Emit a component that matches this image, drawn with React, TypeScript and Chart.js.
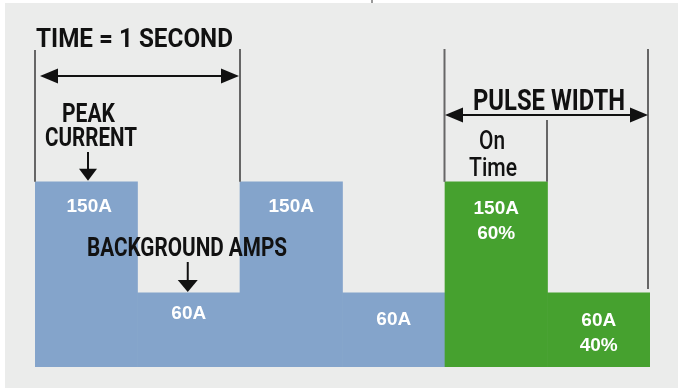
import { useEffect, useRef } from "react";
import { Chart, registerables } from "chart.js";

Chart.register(...registerables);

const categories = ["Peak 1", "Background 1", "Peak 2", "Background 2", "Pulse peak", "Pulse background"];
const amps = [150, 60, 150, 60, 150, 60];
const barLabels = [["150A"], ["60A"], ["150A"], ["60A"], ["150A", "60%"], ["60A", "40%"]];
const barColors = ["#84a4cb", "#84a4cb", "#84a4cb", "#84a4cb", "#46a12f", "#46a12f"];
const titleText = "TIME = 1 SECOND";
const peakText = ["PEAK", "CURRENT"];
const backgroundText = "BACKGROUND AMPS";
const pulseText = "PULSE WIDTH";
const onTimeText = ["On", "Time"];

const BG = "#ebeceb";
const LINE = "#666666";

function fitText(ctx: CanvasRenderingContext2D, text: string, left: number, baseline: number, width: number, font: string) {
  ctx.save();
  ctx.font = font;
  ctx.textAlign = "left";
  ctx.textBaseline = "alphabetic";
  const w = ctx.measureText(text).width;
  ctx.translate(left, baseline);
  ctx.scale(width / w, 1);
  ctx.fillText(text, 0, 0);
  ctx.restore();
}

function hArrow(ctx: CanvasRenderingContext2D, x1: number, x2: number, y: number) {
  const len = 18, half = 7.5;
  ctx.beginPath();
  ctx.moveTo(x1 + len - 2, y);
  ctx.lineTo(x2 - len + 2, y);
  ctx.lineWidth = 2.2;
  ctx.stroke();
  ctx.beginPath();
  ctx.moveTo(x1, y);
  ctx.lineTo(x1 + len, y - half);
  ctx.lineTo(x1 + len, y + half);
  ctx.closePath();
  ctx.fill();
  ctx.beginPath();
  ctx.moveTo(x2, y);
  ctx.lineTo(x2 - len, y - half);
  ctx.lineTo(x2 - len, y + half);
  ctx.closePath();
  ctx.fill();
}

function vArrow(ctx: CanvasRenderingContext2D, x: number, y1: number, y2: number, half: number) {
  const len = 12;
  ctx.beginPath();
  ctx.moveTo(x, y1);
  ctx.lineTo(x, y2 - len + 1);
  ctx.lineWidth = 2;
  ctx.stroke();
  ctx.beginPath();
  ctx.moveTo(x, y2);
  ctx.lineTo(x - half, y2 - len);
  ctx.lineTo(x + half, y2 - len);
  ctx.closePath();
  ctx.fill();
}

function vLine(ctx: CanvasRenderingContext2D, x: number, y1: number, y2: number) {
  ctx.save();
  ctx.strokeStyle = LINE;
  ctx.lineWidth = 2;
  ctx.beginPath();
  ctx.moveTo(x, y1);
  ctx.lineTo(x, y2);
  ctx.stroke();
  ctx.restore();
}

const decorPlugin = {
  id: "decor",
  beforeDraw(chart: any) {
    const ctx = chart.ctx as CanvasRenderingContext2D;
    ctx.save();
    ctx.fillStyle = "#ffffff";
    ctx.fillRect(0, 0, chart.width, chart.height);
    ctx.fillStyle = BG;
    ctx.fillRect(5, 3, chart.width - 5, chart.height - 3);
    ctx.strokeStyle = "#777";
    ctx.lineWidth = 1.5;
    ctx.beginPath();
    ctx.moveTo(372, 0);
    ctx.lineTo(372, 3);
    ctx.stroke();
    ctx.restore();
  },
  afterDatasetsDraw(chart: any) {
    const ctx = chart.ctx as CanvasRenderingContext2D;
    const xs = chart.scales.x;
    const ys = chart.scales.y;
    const edge = (i: number) => xs.getPixelForValue(i - 0.5);
    const topPeak = ys.getPixelForValue(150);
    const topBg = ys.getPixelForValue(60);

    // vertical guide lines
    vLine(ctx, edge(0), 50, topPeak);
    vLine(ctx, edge(2), 49, topPeak);
    vLine(ctx, edge(4) - 0.5, 49, topPeak);
    vLine(ctx, edge(5) - 0.5, 120, topPeak);
    vLine(ctx, edge(6) - 2, 49, topBg - 4);

    ctx.save();
    ctx.fillStyle = "#111111";
    ctx.strokeStyle = "#111111";
    const blackFont = (s: number) => `bold ${s}px Roboto, "Liberation Sans", sans-serif`;

    fitText(ctx, titleText, edge(0) + 1, 47, 197, blackFont(26));
    hArrow(ctx, edge(0) + 5, edge(2) - 1, 76);

    fitText(ctx, peakText[0], 62, 122, 53, blackFont(26));
    fitText(ctx, peakText[1], 45, 146, 92, blackFont(26));
    vArrow(ctx, 88, 152, topPeak - 1, 9);

    fitText(ctx, backgroundText, 87, 256, 200, blackFont(26));
    vArrow(ctx, xs.getPixelForValue(1) - 1, 262, topBg - 1, 10);

    fitText(ctx, pulseText, 473, 110, 152, blackFont(30));
    hArrow(ctx, edge(4), edge(6) - 2, 115);

    const light = (s: number) => `500 ${s}px Roboto, "Liberation Sans", sans-serif`;
    fitText(ctx, onTimeText[0], 479, 149, 26, light(25));
    fitText(ctx, onTimeText[1], 469, 176, 48, light(25));
    ctx.restore();

    // white value labels
    ctx.save();
    ctx.fillStyle = "#ffffff";
    ctx.font = 'bold 19px "Liberation Sans", Arial, sans-serif';
    ctx.textAlign = "center";
    ctx.textBaseline = "alphabetic";
    const offsets = [30, 26, 30, 32, 32, 33];
    amps.forEach((v, i) => {
      const cx = xs.getPixelForValue(i) + (i === 0 ? 3 : 0);
      const top = ys.getPixelForValue(v);
      barLabels[i].forEach((t, k) => {
        ctx.fillText(t, cx, top + offsets[i] + k * 25);
      });
    });
    ctx.restore();
  },
};

export default function App() {
  const ref = useRef<HTMLCanvasElement | null>(null);
  useEffect(() => {
    document.body.style.margin = "0";
    const canvas = ref.current;
    if (!canvas) return;
    const chart = new Chart(canvas, {
      type: "bar",
      data: {
        labels: categories,
        datasets: [
          {
            data: amps,
            backgroundColor: barColors,
            borderWidth: 0,
            barPercentage: 1,
            categoryPercentage: 1,
          },
        ],
      },
      options: {
        animation: false,
        responsive: true,
        maintainAspectRatio: false,
        layout: { padding: { left: 35, right: 28, top: 9, bottom: 21 } },
        plugins: { legend: { display: false }, tooltip: { enabled: false }, title: { display: false } },
        scales: {
          x: { display: false, grid: { display: false } },
          y: { display: false, min: 0, max: 290, grid: { display: false } },
        },
      },
      plugins: [decorPlugin],
    });
    return () => chart.destroy();
  }, []);
  return (
    <div style={{ position: "fixed", left: 0, top: 0, width: 678, height: 388 }}>
      <canvas ref={ref} />
    </div>
  );
}
